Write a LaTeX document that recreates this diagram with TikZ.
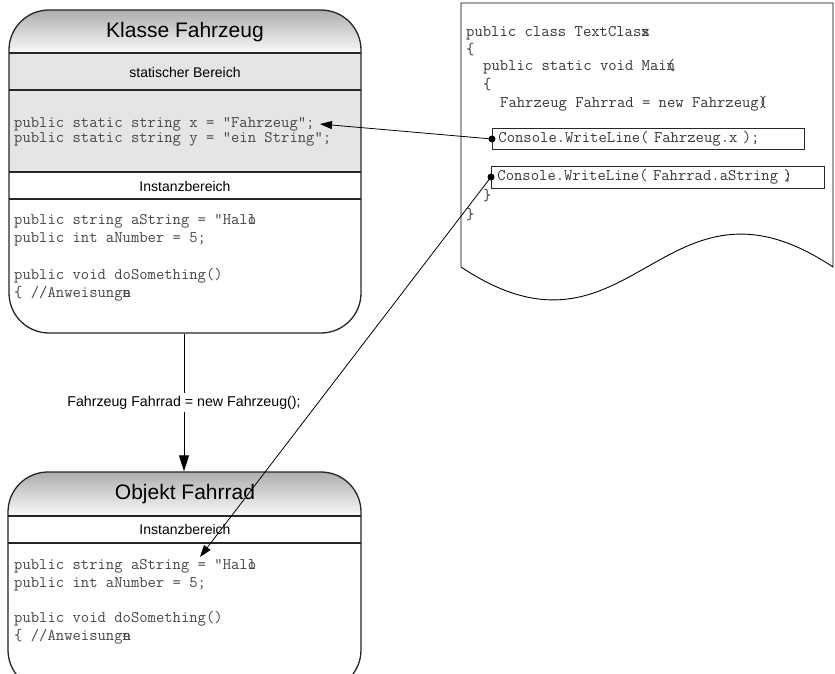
\documentclass[tikz,border=0pt]{standalone}
\usepackage{fontspec}
\setmainfont{Liberation Sans}
\usetikzlibrary{arrows.meta}

% two glyphs printed into one character cell
\newcommand\ovl[2]{\rlap{#1}#2}

\tikzset{
  outline/.style={draw=black!85, line width=1.3pt},
  sectionline/.style={draw=black!85, line width=1.2pt},
  title/.style={font=\fontsize{21}{24}\selectfont, inner sep=0pt},
  band/.style={font=\fontsize{14}{16}\selectfont, inner sep=0pt},
  code/.style={font=\ttfamily\fontsize{16.2}{18}\selectfont, text=black!72, anchor=west, inner sep=0pt},
  doccode/.style={font=\ttfamily\fontsize{16.2}{18}\selectfont, text=black!78, anchor=west, inner sep=0pt},
  codebox/.style={draw=black!85, line width=0.9pt, anchor=west, inner xsep=6pt, inner ysep=0pt,
    font=\ttfamily\fontsize{16.2}{18}\selectfont, text=black!78, align=left},
  dot/.style={circle, fill=black, inner sep=0pt, minimum size=7pt},
  ref/.style={line width=0.8pt, -{Triangle[length=12pt,width=8pt]}},
  flow/.style={line width=1pt, -{Triangle[length=16pt,width=10pt]}},
}

\begin{document}
\begin{tikzpicture}[x=1pt,y=-1pt]
\useasboundingbox (0,0) rectangle (835,674);
\fill[white] (0,0) rectangle (835,674);

% ---------- class box ----------
\begin{scope}
  \clip[rounded corners=40pt] (9,10) rectangle (361,333);
  \fill[top color=black!32, bottom color=black!2] (9,10) rectangle (361,53);
  \fill[black!10] (9,53) rectangle (361,172);
\end{scope}
\node[outline, rounded corners=40pt, minimum width=352pt, minimum height=323pt] (klasse) at (185,171.5) {};
\draw[sectionline] (9,53) -- (361,53);
\draw[sectionline] (9,90) -- (361,90);
\draw[sectionline] (9,172) -- (361,172);
\draw[sectionline] (9,199) -- (361,199);

\node[title] (ktitle) at (185,32) {Klasse Fahrzeug};
\node[band] (kstat) at (185,72) {statischer Bereich};
\node[band] (kinst) at (185,186) {Instanzbereich};

\node[code] (s1) at (14,124) {public static string x = "Fahrzeug";};
\node[code] (s2) at (14,139.5) {public static string y = "ein String";};
\node[code] (k1) at (14,221) {public string aString = "Hal\ovl{l}{o}};
\node[code] (k2) at (14,239) {public int aNumber = 5;};
\node[code] (k3) at (14,276) {public void doSomething()};
\node[code] (k4) at (14,294) {\{ //Anweisung\ovl{e}{n}};

\coordinate (xref) at (320,124);

% ---------- object box ----------
\begin{scope}
  \clip[rounded corners=40pt] (8,472) rectangle (361,690);
  \fill[top color=black!32, bottom color=black!2] (8,472) rectangle (361,516);
\end{scope}
\node[outline, rounded corners=40pt, minimum width=353pt, minimum height=218pt] (objekt) at (184.5,581) {};
\draw[sectionline] (8,516) -- (361,516);
\draw[sectionline] (8,543) -- (361,543);

\node[title] (otitle) at (185,494) {Objekt Fahrrad};
\node[band] (oinst) at (185,529) {Instanzbereich};

\node[code] (o1) at (14,566) {public string aString = "Hal\ovl{l}{o}};
\node[code] (o2) at (14,584) {public int aNumber = 5;};
\node[code] (o3) at (14,619) {public void doSomething()};
\node[code] (o4) at (14,637) {\{ //Anweisung\ovl{e}{n}};

\coordinate (astr) at (200,557);

% ---------- instantiation arrow ----------
\draw[flow] (klasse.south -| 184,0) -- (objekt.north -| 184,0)
  node[pos=0.5, fill=white, inner xsep=2pt, inner ysep=3pt, font=\fontsize{14.2}{16}\selectfont] (newlbl)
  {Fahrzeug Fahrrad = new Fahrzeug();};

% ---------- source document ----------
\draw[line width=0.9pt] (461,3) -- (833,3) -- (833,267)
  .. controls (662,153) and (632,381) .. (461,267) -- cycle;

\node[doccode] (t1) at (466,33) {public class TextClas\ovl{s}{x}};
\node[doccode] (t2) at (466,50) {\{};
\node[doccode] (t3) at (483,67) {public static void Mai\ovl{n}{(}};
\node[doccode] (t4) at (483,85) {\{};
\node[doccode] (t5) at (500,104) {Fahrzeug Fahrrad = new Fahrzeug\ovl{(}{)}};
\node[codebox, text width=300pt, minimum height=21pt] (call1) at (492,139)
  {Console.WriteLine( Fahrzeug.x );};
\node[codebox, text width=321pt, minimum height=22pt] (call2) at (491,177)
  {Console.WriteLine( Fahrrad.aString \ovl{)}{;}};
\node[doccode] (t6) at (483,196) {\}};
\node[doccode] (t7) at (466,215) {\}};

% ---------- references ----------
\node[dot] (d1) at (call1.west) {};
\node[dot] (d2) at (call2.west) {};
\draw[ref] (d1.center) -- (xref);
\draw[ref] (d2.center) -- (astr);
\end{tikzpicture}
\end{document}
